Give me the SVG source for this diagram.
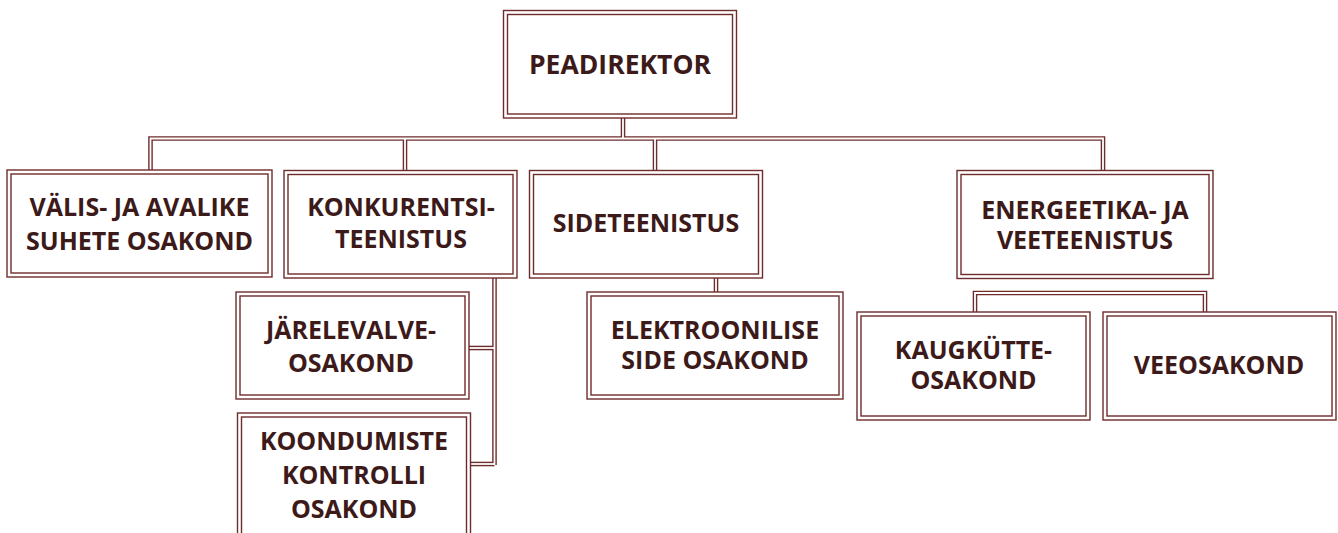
<svg xmlns="http://www.w3.org/2000/svg" xmlns:xlink="http://www.w3.org/1999/xlink" width="1338" height="533" viewBox="0 0 1338 533">
<style>
.o{fill:#fff;stroke:#6f2c2c;stroke-width:1.4}
.i{fill:none;stroke:#6f2c2c;stroke-width:1.4}
.cd{fill:none;stroke:#6f2c2c;stroke-width:4.6}
.cw{fill:none;stroke:#fff;stroke-width:1.8}
text{font-family:"Open Sans","Noto Sans","Liberation Sans",sans-serif;font-weight:bold;font-size:25px;fill:#3d1a1a;text-anchor:middle}
.big{font-size:26.5px}
</style>
<defs>
<path id="p1" d="M623,118 V138.5"/>
<path id="p2" d="M150.5,170 V138.5 H1103 V170"/>
<path id="p3" d="M405,138.5 V170"/>
<path id="p4" d="M655,138.5 V170"/>
<path id="p5" d="M716,278 V292"/>
<path id="p6" d="M494.5,278 V465"/>
<path id="p7" d="M469,348 H494.5"/>
<path id="p8" d="M471,464 H494.5"/>
<path id="p9" d="M975,312 V293 H1205 V312"/>
</defs>
<rect width="1338" height="533" fill="#fff"/>
<g id="connectors">
<use xlink:href="#p1" class="cd"/><use xlink:href="#p2" class="cd"/><use xlink:href="#p3" class="cd"/><use xlink:href="#p4" class="cd"/><use xlink:href="#p5" class="cd"/><use xlink:href="#p6" class="cd"/><use xlink:href="#p7" class="cd"/><use xlink:href="#p8" class="cd"/><use xlink:href="#p9" class="cd"/>
<use xlink:href="#p1" class="cw"/><use xlink:href="#p2" class="cw"/><use xlink:href="#p3" class="cw"/><use xlink:href="#p4" class="cw"/><use xlink:href="#p5" class="cw"/><use xlink:href="#p6" class="cw"/><use xlink:href="#p7" class="cw"/><use xlink:href="#p8" class="cw"/><use xlink:href="#p9" class="cw"/>
</g>
<g id="peadirektor">
<rect class="o" x="503.5" y="10.5" width="233" height="107.5"/>
<rect class="i" x="507.5" y="14.5" width="225" height="99.5"/>
<text class="big" x="620" y="73.5">PEADIREKTOR</text>
</g>
<g id="valis">
<rect class="o" x="7" y="170" width="265" height="107"/>
<rect class="i" x="11" y="174" width="257" height="99"/>
<text x="139.5" y="215.5">VÄLIS- JA AVALIKE</text>
<text x="139.5" y="249.5">SUHETE OSAKOND</text>
</g>
<g id="konkurentsi">
<rect class="o" x="284" y="170.5" width="233" height="107.5"/>
<rect class="i" x="288" y="174.5" width="225" height="99.5"/>
<text x="401" y="216">KONKURENTSI-</text>
<text x="401" y="247.5">TEENISTUS</text>
</g>
<g id="sideteenistus">
<rect class="o" x="529.5" y="170.5" width="233" height="107.5"/>
<rect class="i" x="533.5" y="174.5" width="225" height="99.5"/>
<text x="646" y="231.5">SIDETEENISTUS</text>
</g>
<g id="energeetika">
<rect class="o" x="957" y="170.5" width="256" height="108"/>
<rect class="i" x="961" y="174.5" width="248" height="100"/>
<text x="1085" y="219">ENERGEETIKA- JA</text>
<text x="1085" y="248.5">VEETEENISTUS</text>
</g>
<g id="jarelevalve">
<rect class="o" x="236" y="292" width="233" height="107"/>
<rect class="i" x="240" y="296" width="225" height="99"/>
<text x="351" y="339">JÄRELEVALVE-</text>
<text x="351" y="371.5">OSAKOND</text>
</g>
<g id="koondumiste">
<rect class="o" x="237.5" y="413" width="233" height="140"/>
<rect class="i" x="241.5" y="417" width="225" height="132"/>
<text x="354" y="450">KOONDUMISTE</text>
<text x="354" y="483.5">KONTROLLI</text>
<text x="354" y="518">OSAKOND</text>
</g>
<g id="elektroonilise">
<rect class="o" x="587" y="292" width="256" height="107"/>
<rect class="i" x="591" y="296" width="248" height="99"/>
<text x="715" y="339">ELEKTROONILISE</text>
<text x="715" y="369">SIDE OSAKOND</text>
</g>
<g id="kaugkutte">
<rect class="o" x="857" y="312" width="233" height="108"/>
<rect class="i" x="861" y="316" width="225" height="100"/>
<text x="973.5" y="359">KAUGKÜTTE-</text>
<text x="973.5" y="389">OSAKOND</text>
</g>
<g id="veeosakond">
<rect class="o" x="1103" y="312" width="233" height="108"/>
<rect class="i" x="1107" y="316" width="225" height="100"/>
<text x="1219" y="374">VEEOSAKOND</text>
</g>
</svg>
